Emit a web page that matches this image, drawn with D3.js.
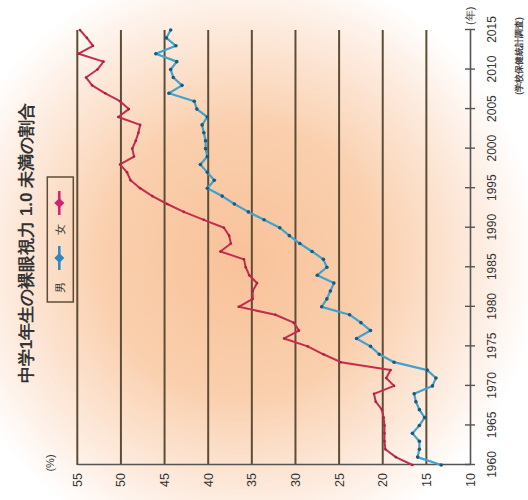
<!DOCTYPE html>
<html><head><meta charset="utf-8">
<script src="https://cdn.jsdelivr.net/npm/d3@7"></script>
<style>
html,body{margin:0;padding:0;background:#fff;}
svg{display:block;}
text{font-family:"Liberation Sans",Arial,sans-serif;}
</style></head>
<body>
<svg id="chart" width="528" height="500"></svg>
<script>
// ---- data ----
const years = [1960,1961,1962,1963,1964,1965,1966,1967,1968,1969,
               1970,1971,1972,1973,1974,1975,1976,1977,1978,1979,
               1980,1981,1982,1983,1984,1985,1986,1987,1988,1989,
               1990,1991,1992,1993,1994,1995,1996,1997,1998,1999,
               2000,2001,2002,2003,2004,2005,2006,2007,2008,2009,
               2010,2011,2012,2013,2014,2015];
const girls = [16.6,18.5,19.7,19.8,19.8,19.8,19.9,20.1,20.8,21.0,
               18.7,19.6,19.1,24.8,26.8,28.6,31.3,29.6,30.2,32.3,
               36.5,34.9,34.9,34.4,35.3,35.7,35.9,38.6,37.4,37.6,
               38.2,40.5,42.8,44.7,46.4,47.8,48.9,49.3,50.1,48.5,
               48.7,48.3,48.0,47.8,50.3,49.1,50.1,51.8,53.3,54.0,
               52.7,52.0,54.85,53.2,53.9,54.7];
const boys  = [13.3,16.0,15.8,15.8,16.6,15.8,15.2,15.8,16.2,16.4,
               14.3,13.9,14.9,18.7,20.4,21.4,23.0,21.4,22.5,23.8,
               27.0,26.4,26.0,25.6,27.5,26.4,26.8,28.1,29.5,30.7,
               31.8,33.6,35.4,37.0,38.4,40.1,39.3,40.1,40.9,40.1,
               40.3,40.3,40.5,40.7,40.1,41.3,41.6,44.5,43.0,44.0,
               44.3,43.6,46.0,43.7,44.8,44.3];
const valueTicks = [10,15,20,25,30,35,40,45,50,55];
const yearTicks = [1960,1965,1970,1975,1980,1985,1990,1995,2000,2005,2010,2015];
const seriesNames = ["男","女"];
const titleText = "中学1年生の裸眼視力 1.0 未満の割合";
const sourceText = "(学校保健統計調査)";

// ---- drawing ----
const svg = d3.select("#chart");
const defs = svg.append("defs");
const grad = defs.append("radialGradient").attr("id","bg")
  .attr("gradientUnits","userSpaceOnUse")
  .attr("cx",240).attr("cy",260).attr("r",300);
grad.append("stop").attr("offset","0").attr("stop-color","#f8c29a");
grad.append("stop").attr("offset","0.45").attr("stop-color","#facfad");
grad.append("stop").attr("offset","0.8").attr("stop-color","#fdece0");
grad.append("stop").attr("offset","1").attr("stop-color","#ffffff");
svg.append("rect").attr("width",528).attr("height",500).attr("fill","#fff");
svg.append("rect").attr("width",528).attr("height",500).attr("fill","url(#bg)");

const W = 435, H = 392.7;
const g = svg.append("g").attr("transform","translate(77.3,465) rotate(-90)");
const x = d3.scaleLinear().domain([1960,2015]).range([0,W]);
const y = d3.scaleLinear().domain([10,55]).range([H,0]);

// grid lines
g.append("g").selectAll("line").data(valueTicks.filter(v=>v>10)).join("line")
  .attr("x1",0).attr("x2",W).attr("y1",d=>y(d)).attr("y2",d=>y(d))
  .attr("stroke","#5e4d36").attr("stroke-width",2);

// value axis (baseline)
const ya = g.append("g").call(d3.axisLeft(y).tickValues(valueTicks).tickSize(0).tickSizeOuter(0).tickPadding(8));
ya.select(".domain").attr("stroke","#555").attr("stroke-width",1.6);
ya.selectAll("text").attr("font-size",12.5).attr("fill","#333");

// year axis
const xa = g.append("g").attr("transform",`translate(0,${H})`)
  .call(d3.axisBottom(x).tickValues(yearTicks).tickFormat(d3.format("d"))
    .tickSize(0).tickSizeOuter(0).tickPadding(17));
xa.select(".domain").attr("stroke","#555").attr("stroke-width",1.6);
xa.selectAll("text").attr("font-size",12).attr("fill","#333");
xa.selectAll(".tick").append("line").attr("y1",-5).attr("y2",5)
  .attr("stroke","#555").attr("stroke-width",1.4);

// unit labels
g.append("text").attr("x",2).attr("y",-23).attr("text-anchor","middle")
  .attr("font-size",11).attr("fill","#333").text("(%)");
g.append("text").attr("x",440).attr("y",H+4).attr("text-anchor","start")
  .attr("font-size",11).attr("fill","#333").text("(年)");

// lines
const line = d3.line().x(d=>x(d[0])).y(d=>y(d[1]));
const girlsData = years.map((yr,i)=>[yr,girls[i]]);
const boysData = years.map((yr,i)=>[yr,boys[i]]);

g.append("path").datum(girlsData).attr("d",line).attr("fill","none")
  .attr("stroke","#c42d4f").attr("stroke-width",2).attr("stroke-linejoin","round");
g.append("g").selectAll("circle").data(girlsData).join("circle")
  .attr("cx",d=>x(d[0])).attr("cy",d=>y(d[1])).attr("r",1.3).attr("fill","#a8223f");

g.append("path").datum(boysData).attr("d",line).attr("fill","none")
  .attr("stroke","#3fa3cf").attr("stroke-width",2.2).attr("stroke-linejoin","round");
g.append("g").selectAll("circle").data(boysData).join("circle")
  .attr("cx",d=>x(d[0])).attr("cy",d=>y(d[1])).attr("r",1.8).attr("fill","#1d5877");

// legend
const lg = g.append("g");
lg.append("rect").attr("x",163).attr("y",-30).attr("width",125).attr("height",26)
  .attr("fill","none").attr("stroke","#5e4d36").attr("stroke-width",1.5);
const legendItems = [
  {name:seriesNames[0], color:"#2f86c4", tx:178, mx:207},
  {name:seriesNames[1], color:"#d41f72", tx:236, mx:262}
];
legendItems.forEach(it=>{
  lg.append("text").attr("x",it.tx).attr("y",-17).attr("dy","0.35em")
    .attr("text-anchor","middle").attr("font-size",10.5).attr("fill","#333")
    .attr("font-family","'Noto Sans CJK JP',sans-serif").text(it.name);
  lg.append("line").attr("x1",it.mx-12).attr("x2",it.mx+12).attr("y1",-18).attr("y2",-18)
    .attr("stroke",it.color).attr("stroke-width",2.5);
  lg.append("path").attr("d",`M${it.mx-5},-18 L${it.mx},-23 L${it.mx+5},-18 L${it.mx},-13 Z`)
    .attr("fill",it.color);
});

// title
g.append("text").attr("x",222).attr("y",-45).attr("text-anchor","middle")
  .attr("font-size",17).attr("font-weight","bold").attr("fill","#333")
  .attr("font-family","'Noto Sans CJK JP',sans-serif").text(titleText);

// source
g.append("text").attr("x",409).attr("y",445).attr("text-anchor","middle")
  .attr("font-size",8.5).attr("font-weight","bold").attr("fill","#444")
  .attr("font-family","'Noto Sans CJK JP',sans-serif").text(sourceText);
</script>
</body></html>
